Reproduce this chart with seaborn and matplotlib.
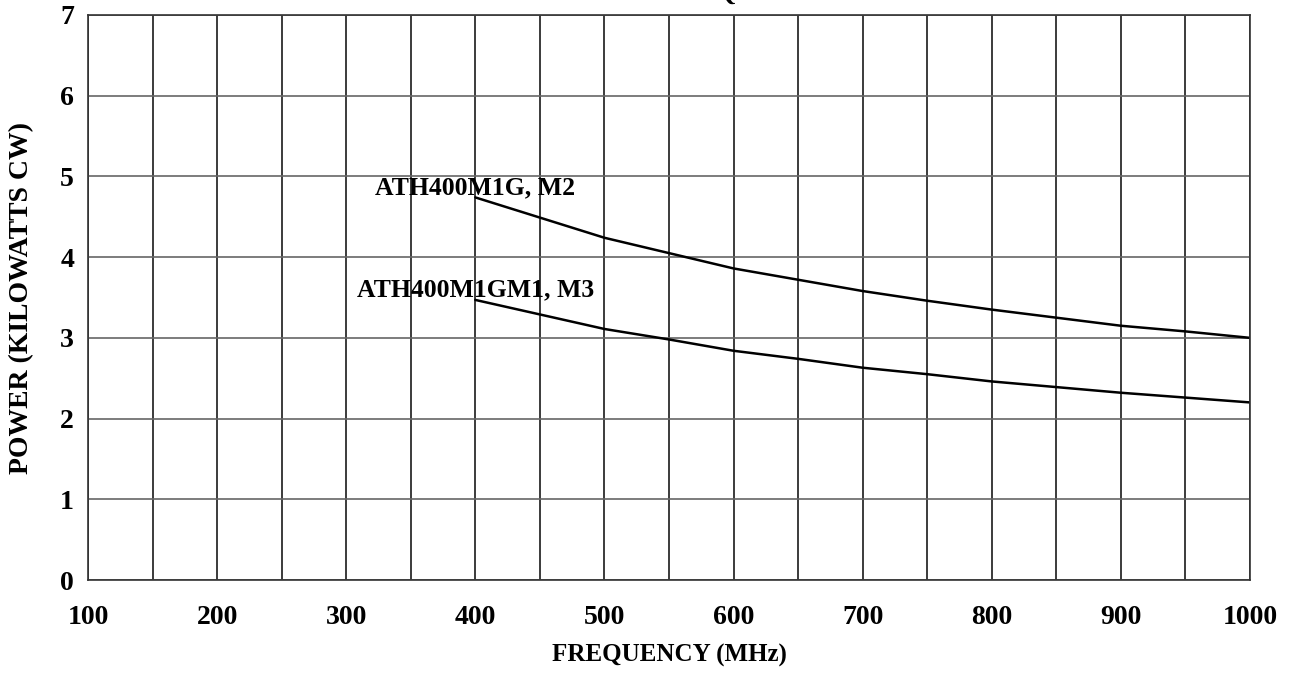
import matplotlib
matplotlib.use("Agg")
import matplotlib.pyplot as plt
from matplotlib.ticker import MultipleLocator
import seaborn as sns
import pandas as pd

# ---- data ----
series_names = ["ATH400M1G, M2", "ATH400M1GM1, M3"]
freq_mhz = [400, 450, 500, 550, 600, 650, 700, 750, 800, 850, 900, 950, 1000]
power_m2 = [4.74, 4.49, 4.24, 4.05, 3.86, 3.72, 3.58, 3.46, 3.35, 3.25, 3.15, 3.08, 3.00]
power_m3 = [3.47, 3.29, 3.11, 2.98, 2.84, 2.74, 2.63, 2.55, 2.46, 2.39, 2.32, 2.26, 2.20]
x_ticks = [100, 200, 300, 400, 500, 600, 700, 800, 900, 1000]
y_ticks = [0, 1, 2, 3, 4, 5, 6, 7]
x_label = "FREQUENCY (MHz)"
y_label = "POWER (KILOWATTS CW)"
title_text = "POWER vs. FREQUENCY"

df = pd.DataFrame({
    "freq": freq_mhz * 2,
    "power": power_m2 + power_m3,
    "series": [series_names[0]] * len(freq_mhz) + [series_names[1]] * len(freq_mhz),
})

sns.set_theme(style="white")
plt.rcParams["font.family"] = ["Liberation Serif", "DejaVu Serif"]
plt.rcParams["font.weight"] = "bold"
for k in ["text.color", "axes.labelcolor", "xtick.color", "ytick.color"]:
    plt.rcParams[k] = "black"

fig = plt.figure(figsize=(12.92, 6.73), dpi=100)
ax = fig.add_axes([88 / 1292, 1 - 580 / 673, (1250 - 88) / 1292, (580 - 15) / 673])

sns.lineplot(data=df, x="freq", y="power", hue="series",
             palette=["black", "black"], linewidth=1.8, legend=False, ax=ax)

ax.set_xlim(100, 1000)
ax.set_ylim(0, 7)
ax.set_xticks(x_ticks)
ax.set_yticks(y_ticks)
ax.xaxis.set_minor_locator(MultipleLocator(50))
ax.set_xticklabels([str(v) for v in x_ticks], fontsize=20, fontweight="bold")
ax.set_yticklabels([str(v) for v in y_ticks], fontsize=20, fontweight="bold")
ax.tick_params(axis="x", which="both", length=0, pad=18, colors="black")
ax.tick_params(axis="y", which="both", length=0, pad=10, colors="black")

ax.grid(False)
ax.grid(axis="x", which="both", color="#1a1a1a", linewidth=1.2)
ax.grid(axis="y", which="major", color="#666666", linewidth=1.2)
ax.set_axisbelow(True)
for s in ax.spines.values():
    s.set_color("#333333")
    s.set_linewidth(1.2)

ax.set_xlabel(x_label, fontsize=18, fontweight="bold", color="black")
ax.set_ylabel(y_label, fontsize=20, fontweight="bold", color="black")
ax.xaxis.set_label_coords(0.5, -(655 - 580) / 565, transform=ax.transAxes)
ax.xaxis.label.set_va("center")
ax.yaxis.set_label_coords(-(88 - 22) / 1162, 0.5, transform=ax.transAxes)
ax.yaxis.label.set_va("center")

# curve labels at start of each line
for name, vals in [(series_names[0], power_m2), (series_names[1], power_m3)]:
    ax.text(freq_mhz[0], vals[0] + 0.04, name, ha="center", va="baseline",
            fontsize=18.5, fontweight="bold", color="black")

# title mostly cut off above the figure (only the Q tail is visible)
renderer = fig.canvas.get_renderer()
t = fig.text(0, 1.0, title_text, ha="left", va="baseline", fontsize=18,
             fontweight="bold", color="black")
tmp = fig.text(0, 0, title_text[:title_text.index("Q")], fontsize=18, fontweight="bold")
pre_w = tmp.get_window_extent(renderer).width
tmp.remove()
q_center_px = 725
t.set_x((q_center_px - pre_w - 8) / 1292)

fig.savefig("out.png", dpi=100)
